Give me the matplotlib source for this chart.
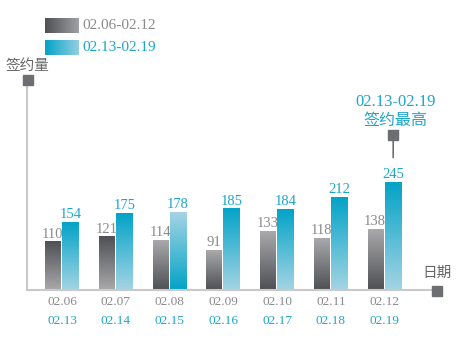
import numpy as np
import matplotlib.pyplot as plt
from matplotlib.colors import LinearSegmentedColormap
from matplotlib.patches import Rectangle
from matplotlib.transforms import blended_transform_factory

# 两周签约量对比
dates_a = ['02.06', '02.07', '02.08', '02.09', '02.10', '02.11', '02.12']
dates_b = ['02.13', '02.14', '02.15', '02.16', '02.17', '02.18', '02.19']
vals_a = [110, 121, 114, 91, 133, 118, 138]
vals_b = [154, 175, 178, 185, 184, 212, 245]
legend_labels = ['02.06-02.12', '02.13-02.19']
# 渐变方向: True = 顶部颜色深
dark_top_a = [True, True, False, False, False, False, False]
dark_top_b = [True, True, False, True, True, True, True]

W, H = 475, 338
fig = plt.figure(figsize=(W / 100, H / 100), dpi=100)
fig.patch.set_facecolor('white')

num_font = ['Liberation Serif', 'Noto Sans CJK SC']
cjk_font = ['Noto Sans CJK SC', 'DejaVu Sans']
gray_txt = '#8a8a8a'
blue_txt = '#1ba6c9'
mark_col = '#6d6e71'

cmap_gray = LinearSegmentedColormap.from_list('g', ['#a9a9ab', '#4e5054'])
cmap_blue = LinearSegmentedColormap.from_list('b', ['#a4d4e4', '#03a3c7'])


def px(x, y):
    # 像素坐标(左上为原点) -> figure 坐标
    return x / W, 1 - y / H


ax = fig.add_axes([27 / W, 1 - 290 / H, (432 - 27) / W, (290 - 85) / H])
ax.set_facecolor('none')

x = np.arange(len(vals_a))
wa, wb = 0.279, 0.316
off_a, off_b = -0.177, 0.158
grad = np.linspace(0, 1, 200).reshape(-1, 1)


def grad_bar(xc, w, v, cmap, dark_top):
    g = grad if dark_top else grad[::-1]
    ax.imshow(g, extent=[xc - w / 2, xc + w / 2, 0, v], origin='lower',
              aspect='auto', cmap=cmap, vmin=0, vmax=1, zorder=2)


for i in range(len(x)):
    grad_bar(x[i] + off_a, wa, vals_a[i], cmap_gray, dark_top_a[i])
    grad_bar(x[i] + off_b, wb, vals_b[i], cmap_blue, dark_top_b[i])
    ax.text(x[i] + off_a, vals_a[i] + 3, str(vals_a[i]), ha='center', va='bottom',
            fontsize=10.5, color=gray_txt, family=num_font)
    ax.text(x[i] + off_b, vals_b[i] + 3, str(vals_b[i]), ha='center', va='bottom',
            fontsize=10.5, color=blue_txt, family=num_font)
    ax.text(x[i], -0.058, dates_a[i], transform=ax.get_xaxis_transform(),
            ha='center', va='center', fontsize=9.5, color=gray_txt, family=num_font)
    ax.text(x[i], -0.151, dates_b[i], transform=ax.get_xaxis_transform(),
            ha='center', va='center', fontsize=9.5, color=blue_txt, family=num_font)

ax.set_xlim(-0.65, 6.88)
ax.set_ylim(0, 468)
for s in ['top', 'right']:
    ax.spines[s].set_visible(False)
for s in ['left', 'bottom']:
    ax.spines[s].set_color('#c9c9c9')
    ax.spines[s].set_linewidth(1.5)
ax.set_xticks([])
ax.set_yticks([])

# 坐标轴端点方块
for (x0, y0, w, h) in [(23, 75, 10, 10), (432, 286, 10, 10)]:
    fig.patches.append(Rectangle(px(x0, y0 + h), w / W, h / H,
                                 transform=fig.transFigure, color=mark_col, zorder=5))

fig.text(*px(27, 66), '签约量', ha='center', va='center', fontsize=10.5,
         color='#666666', family=cjk_font)
fig.text(*px(437, 273), '日期', ha='center', va='center', fontsize=10.5,
         color='#666666', family=cjk_font)

# 最高值标注: 横向跟随最高柱, 纵向按图像像素定位
top_x = x[-1] + off_b
bt = blended_transform_factory(ax.transData, fig.transFigure)
ax.text(top_x + 0.05, 1 - 102 / H, '02.13-02.19', transform=bt, ha='center', va='center',
        fontsize=12, color=blue_txt, family=num_font)
ax.text(top_x + 0.05, 1 - 120 / H, '签约最高', transform=bt, ha='center', va='center',
        fontsize=11.5, color=blue_txt, family=cjk_font)
ax.add_patch(Rectangle((top_x - 0.09, 1 - 140 / H), 0.18, 10 / H, transform=bt,
                       color=mark_col, zorder=5, clip_on=False))
ax.annotate('', xy=(top_x, vals_b[-1]), xycoords='data',
            xytext=(top_x, 1 - 140 / H), textcoords=bt,
            arrowprops=dict(arrowstyle='-', color='#555555', lw=1,
                            shrinkA=0, shrinkB=18))

# 图例
for j, (cm, lab, col) in enumerate(zip([cmap_gray, cmap_blue], legend_labels,
                                        [gray_txt, blue_txt])):
    y0 = 18 + j * 22
    lax = fig.add_axes([45 / W, 1 - (y0 + 15) / H, 34 / W, 15 / H])
    lax.imshow(np.linspace(1, 0.1, 100).reshape(1, -1), aspect='auto',
               cmap=cm, vmin=0, vmax=1)
    lax.axis('off')
    fig.text(*px(82, y0 + 7.5), lab, ha='left', va='center', fontsize=11,
             color=col, family=num_font)

fig.savefig('out.png', dpi=100)
